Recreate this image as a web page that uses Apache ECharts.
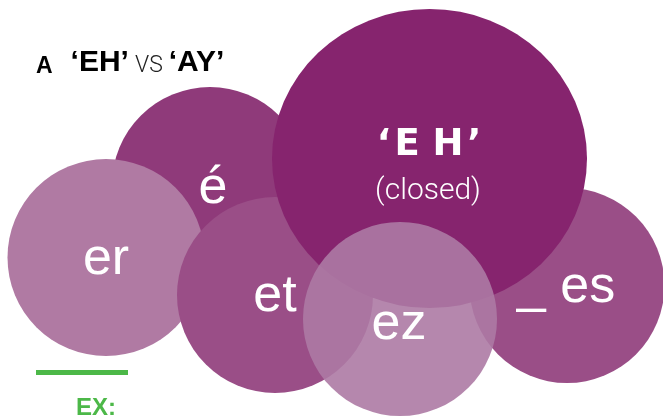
<!DOCTYPE html>
<html>
<head>
<meta charset="utf-8">
<script src="https://cdn.jsdelivr.net/npm/echarts@6/dist/echarts.min.js"></script>
<style>
html, body { margin: 0; padding: 0; background: #fff; }
#chart { width: 663px; height: 417px; }
</style>
</head>
<body>
<div id="chart"></div>
<script>
// circles (drawn in this order, last one on top)
var circleNames = ['é', 'er', 'et', 'es', 'EH', 'ez'];
var circleX = [210, 106, 275, 567, 429.5, 400];
var circleY = [185, 257.5, 295, 285.5, 158.5, 319];
var circleW = [196, 197, 196, 195, 315, 194];
var circleH = [196, 197, 196, 195, 299, 194];

// texts inside the circles
var labelText = ['é', 'er', 'et', '_ es', 'ez', '‘\u200aE H\u200a’', '(closed)'];
var labelX = [213, 106, 275, 566, 399, 429, 428];
var labelY = [189, 260, 297, 288, 325, 145.5, 191];

var titleParts = ['A', '‘EH’', 'VS', '‘AY’'];
var exampleText = 'EX:';

var circleColors = {
	'é': '#8f3a7a',
	'er': '#b07aa3',
	'et': '#9a4e87',
	'es': '#9a4e87',
	'EH': '#86246e',
	'ez': 'rgba(173,122,164,0.9)'
};

var bigFont = {
	fontFamily: 'Liberation Sans, Arial, sans-serif',
	fontSize: 52,
	color: '#fff'
};
var labelStyles = {
	'‘\u200aE H\u200a’': {
		fontFamily: 'DejaVu Sans, sans-serif',
		fontWeight: 'bold',
		fontSize: 37,
		color: '#fff'
	},
	'(closed)': {
		fontFamily: 'Roboto, sans-serif',
		fontWeight: 300,
		fontSize: 30,
		color: '#fff'
	}
};

var myChart = echarts.init(document.getElementById('chart'));

var circleData = [];
for (var i = 0; i < circleNames.length; i++) {
	circleData.push({
		name: circleNames[i],
		value: [circleX[i], circleY[i], circleW[i], circleH[i]],
		itemStyle: { color: circleColors[circleNames[i]], opacity: 1 }
	});
}

var labelData = [];
for (var j = 0; j < labelText.length; j++) {
	var st = labelStyles[labelText[j]] || bigFont;
	labelData.push({
		name: labelText[j],
		value: [labelX[j], labelY[j]],
		label: Object.assign({ show: true, position: 'inside', formatter: '{b}' }, st)
	});
}

var option = {
	animation: false,
	title: {
		left: 36,
		top: 48,
		padding: 0,
		text: '{a|' + titleParts[0] + '}{g|}{b|' + titleParts[1] + '}{g2|}{c|' + titleParts[2] + '}{g2|}{b|' + titleParts[3] + '}',
		textStyle: {
			rich: {
				a: { fontFamily: 'Liberation Sans, Arial', fontWeight: 'bold', fontSize: 23, lineHeight: 23, color: '#000', verticalAlign: 'bottom' },
				b: { fontFamily: 'Liberation Sans, Arial', fontWeight: 'bold', fontSize: 30, lineHeight: 30, color: '#000', verticalAlign: 'bottom' },
				c: { fontFamily: 'Roboto, sans-serif', fontWeight: 300, fontSize: 23, lineHeight: 23, color: '#222', verticalAlign: 'bottom' },
				g: { width: 18 },
				g2: { width: 6 }
			}
		}
	},
	grid: { left: 0, right: 0, top: 0, bottom: 0 },
	xAxis: { type: 'value', min: 0, max: 663, show: false },
	yAxis: { type: 'value', min: 0, max: 417, inverse: true, show: false },
	graphic: [
		{ type: 'rect', left: 36, top: 370, shape: { width: 92, height: 5 }, style: { fill: '#4cb848' } },
		{
			type: 'text', left: 76, top: 396,
			style: { text: exampleText, fill: '#4cb848', font: 'bold 24px "Liberation Sans", Arial' }
		}
	],
	series: [{
		type: 'scatter',
		symbol: 'circle',
		silent: true,
		symbolSize: function (val) {
			return [val[2], val[3]];
		},
		itemStyle: { opacity: 1 },
		data: circleData,
		z: 2
	}, {
		type: 'scatter',
		symbolSize: 0,
		silent: true,
		itemStyle: { opacity: 1 },
		data: labelData,
		z: 5
	}]
};

myChart.setOption(option);
</script>
</body>
</html>
